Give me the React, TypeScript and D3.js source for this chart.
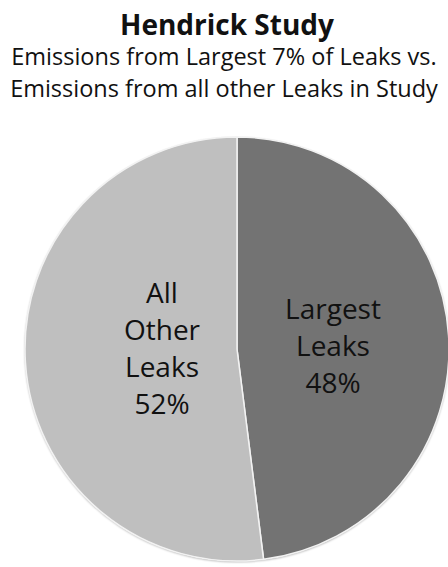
import React from "react";
import * as d3 from "d3";

const categories = ["Largest Leaks", "All Other Leaks"];
const values = [48, 52];
const labelLines = [["Largest", "Leaks", "48%"], ["All", "Other", "Leaks", "52%"]];
const colors = ["#737373", "#bfbfbf"];
const titleText = "Hendrick Study";
const subtitleLines = ["Emissions from Largest 7% of Leaks vs.", "Emissions from all other Leaks in Study"];

const W = 448, H = 567;
const cx = 237, cy = 349, R = 212;
const labelOffsets = [[96, 7], [-75, 9.5]];
const FONT = "'Open Sans', sans-serif";

export default function App() {
  const pie = d3.pie<number>().sort(null).startAngle(0).endAngle(2 * Math.PI)(values);
  const arc = d3.arc<d3.PieArcDatum<number>>().innerRadius(0).outerRadius(R);
  const lineH = 37;
  return (
    <svg width={W} height={H} style={{ position: "absolute", left: 0, top: 0, background: "#fff" }}>
      <defs>
        <filter id="sh" x="-10%" y="-10%" width="120%" height="120%">
          <feGaussianBlur in="SourceAlpha" stdDeviation="1.2" />
          <feOffset dx="0" dy="0.5" result="b" />
          <feFlood floodColor="#000" floodOpacity="0.35" />
          <feComposite in2="b" operator="in" />
          <feMerge>
            <feMergeNode />
            <feMergeNode in="SourceGraphic" />
          </feMerge>
        </filter>
      </defs>
      <text x={227} y={35} textAnchor="middle" fontFamily={FONT} fontWeight="bold" fontSize={28} fill="#111">
        {titleText}
      </text>
      {subtitleLines.map((s, i) => (
        <text key={i} x={224} y={65 + i * 32} textAnchor="middle" fontFamily={FONT} fontSize={23.5} fill="#111">
          {s}
        </text>
      ))}
      <g transform={`translate(${cx},${cy})`}>
        <circle r={R} fill="#fff" filter="url(#sh)" />
        {pie.map((d, i) => (
          <path key={categories[i]} d={arc(d) || ""} fill={colors[i]} stroke="#f2f2f2" strokeWidth={1.5} />
        ))}
        {pie.map((d, i) => {
          const lx = labelOffsets[i][0];
          const ly = labelOffsets[i][1];
          const lines = labelLines[i];
          const y0 = ly - ((lines.length - 1) * lineH) / 2;
          return (
            <text key={"l" + i} textAnchor="middle" fontFamily={FONT} fontSize={28} fill="#111">
              {lines.map((t, j) => (
                <tspan key={j} x={lx} y={y0 + j * lineH}>
                  {t}
                </tspan>
              ))}
            </text>
          );
        })}
      </g>
    </svg>
  );
}
